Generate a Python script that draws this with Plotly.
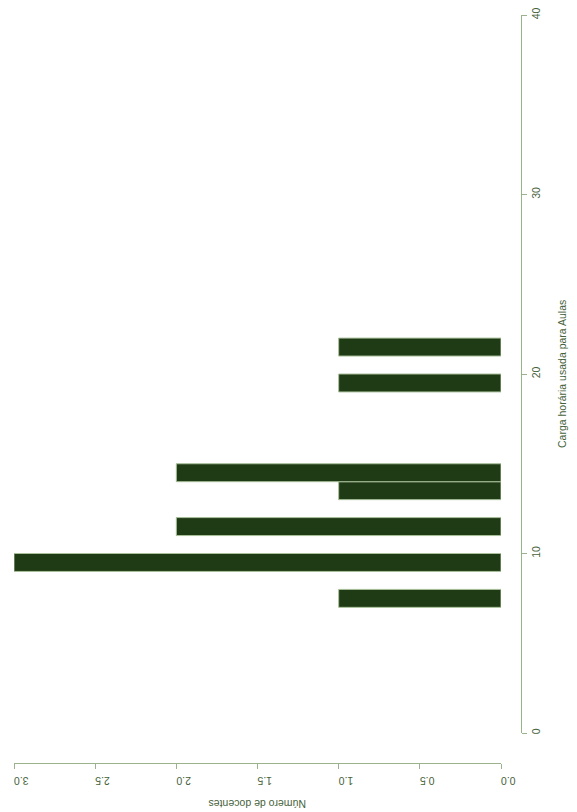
import plotly.graph_objects as go

# Histogram bins (lower edge of each unit-width bin) and counts
bin_start = [7, 9, 11, 13, 14, 19, 21]
counts = [1, 3, 2, 1, 2, 1, 1]
bin_width = 1

carga_ticks = [0, 10, 20, 30, 40]
docentes_ticks = [0.0, 0.5, 1.0, 1.5, 2.0, 2.5, 3.0]

x_title = "Carga horária usada para Aulas"
y_title = "Número de docentes"

W, H = 577, 812
BAR = "#1f3b15"
EDGE = "#a9c09b"
AXIS = "#9bb38c"
TEXT = "#46623a"
FONT = "Liberation Sans, Arial, sans-serif"

centers = [s + bin_width / 2 for s in bin_start]

fig = go.Figure(go.Bar(
    orientation="h",
    y=centers,
    x=counts,
    width=bin_width,
    marker=dict(color=BAR, line=dict(color=EDGE, width=1)),
    hoverinfo="x+y",
))

fig.update_layout(
    width=W, height=H,
    autosize=False,
    margin=dict(l=0, r=0, t=0, b=0, pad=0, autoexpand=False),
    paper_bgcolor="white", plot_bgcolor="white",
    showlegend=False,
    font=dict(family=FONT, color=TEXT, size=10.5),
    xaxis=dict(
        domain=[14 / W, 501 / W],
        range=[3, 0],
        anchor="free", position=(H - 763) / H,
        automargin=False,
        tickvals=docentes_ticks,
        ticktext=[f"{v:.1f}" for v in docentes_ticks],
        tickangle=180,
        ticks="outside", ticklen=5, tickcolor=AXIS, tickwidth=1,
        ticklabelstandoff=6,
        showline=True, linecolor=AXIS, linewidth=1,
        showgrid=False, zeroline=False,
        tickfont=dict(size=10.5, color=TEXT, family=FONT),
    ),
    yaxis=dict(
        domain=[(H - 733) / H, (H - 15) / H],
        range=[0, 40],
        anchor="free", position=521 / W, side="right",
        automargin=False,
        tickvals=carga_ticks,
        tickangle=-90,
        ticks="outside", ticklen=5, tickcolor=AXIS, tickwidth=1,
        showline=True, linecolor=AXIS, linewidth=1,
        showgrid=False, zeroline=False,
        tickfont=dict(size=10.5, color=TEXT, family=FONT),
    ),
    annotations=[
        dict(text=x_title, xref="paper", yref="paper",
             x=562 / W, y=(H - 374) / H, textangle=-90,
             showarrow=False, xanchor="center", yanchor="middle",
             font=dict(size=10.5, color=TEXT, family=FONT)),
        dict(text=y_title, xref="paper", yref="paper",
             x=258 / W, y=(H - 804) / H, textangle=180,
             showarrow=False, xanchor="center", yanchor="middle",
             font=dict(size=10.5, color=TEXT, family=FONT)),
    ],
)

fig.write_html(
    "out.html",
    config={"displayModeBar": False},
    post_script="document.body.style.margin='0';document.body.style.overflow='hidden';",
)
